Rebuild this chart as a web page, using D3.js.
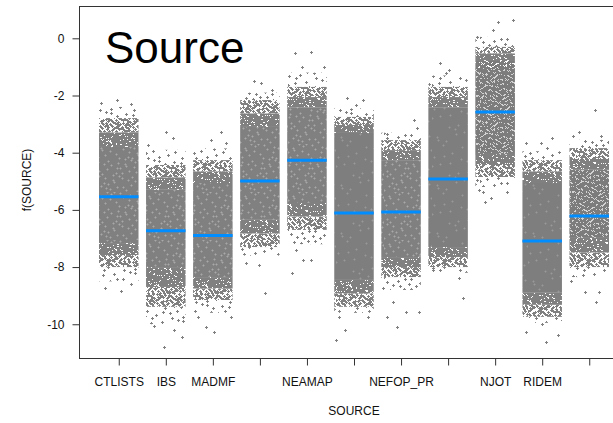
<!DOCTYPE html>
<html>
<head>
<meta charset="utf-8">
<script src="https://cdn.jsdelivr.net/npm/d3@7"></script>
<style>
  body { margin: 0; background: #fff; }
  svg { display: block; font-family: "Liberation Sans", Arial, sans-serif; }
</style>
</head>
<body>
<svg id="chart" width="613" height="423"></svg>
<script>
// factor levels (only some names are printed by the axis)
const levels = ["CTLISTS", "IBS", "MADMF", "L4", "NEAMAP", "L6", "NEFOP_PR", "L8", "NJOT", "RIDEM", "L11"]
const tickLabels = ["CTLISTS", "IBS", "MADMF", "", "NEAMAP", "", "NEFOP_PR", "", "NJOT", "RIDEM", ""]
const yTicks = [0, -2, -4, -6, -8, -10]

// fitted effect and confidence band (band only visible for some levels)
const fit = [-5.54, -6.73, -6.90, -4.99, -4.26, -6.11, -6.07, -4.92, -2.58, -7.09, -6.21]
const ciLower = [null, null, null, null, null, null, null, null, -4.08, null, -6.98]
const ciUpper = [null, null, null, null, null, null, null, null, -1.04, null, -4.60]

// partial residual clouds, read as density zones per level
const sparseTop = [-2.40, -3.90, -3.85, -1.90, -1.20, -2.45, -3.30, -1.30, 0.05, -3.95, -3.55]
const medTop = [-2.79, -4.43, -4.26, -2.16, -1.70, -2.75, -3.56, -1.70, -0.30, -4.26, -3.84]
const coreTop = [-3.80, -5.30, -5.06, -3.10, -2.41, -3.31, -4.26, -2.41, -0.76, -5.06, -4.60]
const coreBottom = [-7.16, -8.00, -8.35, -6.35, -5.76, -8.45, -7.65, -7.30, -4.01, -8.90, -6.98]
const medBottom = [-8.00, -9.39, -9.15, -7.30, -6.70, -9.39, -8.35, -8.00, -4.85, -9.74, -8.00]
const sparseBottom = [-8.50, -10.00, -9.60, -7.60, -7.20, -9.60, -8.80, -8.20, -5.20, -9.95, -8.35]
const coreLook = ["speckled", "speckled", "speckled", "speckled", "speckled", "solid", "speckled", "solid", "open", "solid", "open"]

// isolated residuals: [level index, value, jitter within the column]
const outliers = [
  [0, -2.16, -0.05], [0, -2.25, -0.45], [0, -2.30, 0.30], [0, -8.73, -0.35], [0, -8.85, 0.05], [0, -8.60, 0.30],
  [1, -3.28, 0.00], [1, -3.49, 0.18], [1, -3.73, -0.45], [1, -10.20, 0.20], [1, -10.45, 0.40], [1, -10.79, -0.05], [1, -10.05, -0.30],
  [2, -3.28, 0.20], [2, -3.56, -0.05], [2, -3.66, 0.33], [2, -10.09, -0.17], [2, -10.27, 0.03], [2, -9.74, -0.38], [2, -9.74, 0.45],
  [3, -1.49, -0.15], [3, -1.57, 0.03], [3, -1.81, 0.30], [3, -7.86, -0.35], [3, -7.92, -0.03], [3, -8.90, 0.12],
  [4, -0.51, -0.30], [4, -0.48, 0.10], [4, -1.00, -0.12], [4, -1.00, 0.42], [4, -7.40, -0.27], [4, -7.75, -0.10], [4, -7.75, 0.10], [4, -8.20, -0.38],
  [5, -2.09, -0.17], [5, -2.16, 0.23], [5, -2.33, 0.05], [5, -9.74, -0.37], [5, -10.20, -0.22], [5, -10.55, -0.45], [5, -9.74, 0.35],
  [6, -2.86, 0.33], [6, -3.35, -0.35], [6, -3.14, 0.40], [6, -10.09, -0.10], [6, -9.74, -0.35], [6, -9.56, 0.12], [6, -9.56, 0.45], [6, -9.22, -0.20], [6, -8.72, -0.45],
  [7, -0.86, -0.20], [7, -1.10, 0.03], [7, -1.20, -0.06], [7, -8.38, 0.28], [7, -9.08, 0.38], [7, -8.10, -0.38],
  [8, 0.64, 0.45], [8, 0.57, 0.07], [8, 0.29, -0.05], [8, 0.05, -0.47], [8, -5.30, -0.42], [8, -5.37, -0.30], [8, -5.72, -0.25], [8, -5.58, -0.10], [8, -5.37, 0.30],
  [9, -3.49, 0.25], [9, -3.66, -0.03], [9, -3.66, -0.40], [9, -3.84, 0.12], [9, -10.62, 0.10], [9, -10.28, -0.40], [9, -10.38, 0.40], [9, -10.00, 0.00],
  [10, -2.51, 0.14], [10, -3.28, -0.25], [10, -3.42, -0.40], [10, -3.42, 0.30], [10, -8.86, 0.25], [10, -9.22, 0.18], [10, -8.86, -0.10], [10, -8.50, -0.45]
]

const svg = d3.select("#chart")
const plotLeft = 79, plotRight = 629, plotTop = 6, plotBottom = 358

const x = d3.scalePoint().domain(levels).range([plotLeft, plotRight]).padding(0.845)
const y = d3.scaleLinear().domain([-11.18, 1.13]).range([plotBottom, plotTop])
const halfW = 19.75
const jitter = d3.scaleLinear().domain([-0.5, 0.5]).range([-halfW, halfW])

// textures for the point clouds (quasi-random "+" marks inside a tile)
function halton(i, b) {
  let f = 1, r = 0
  while (i > 0) { f /= b; r += f * (i % b); i = Math.floor(i / b) }
  return r
}
const T = 48
const defs = svg.append("defs")
function makePattern(id, n, offset, bg, color, s) {
  const p = defs.append("pattern").attr("id", id)
    .attr("patternUnits", "userSpaceOnUse").attr("width", T).attr("height", T)
  if (bg) p.append("rect").attr("width", T).attr("height", T).attr("fill", bg)
  p.append("path")
    .attr("d", d3.range(n).map(i => {
      const px = Math.floor(halton(i + offset, 2) * T) + 0.5
      const py = Math.floor(halton(i + offset, 3) * T) + 0.5
      return `M${px - s},${py}h${2 * s}M${px},${py - s}v${2 * s}`
    }).join(""))
    .attr("stroke", color).attr("stroke-width", 1).attr("fill", "none")
}
makePattern("sparse", 48, 7, null, "#808080", 1.5)
makePattern("medium", 330, 101, null, "#808080", 1.5)
makePattern("heavy", 700, 577, null, "#808080", 1.5)
makePattern("open", 560, 1301, null, "#7c7c7c", 1.5)
makePattern("speckled", 70, 2203, "#808080", "#a8a8a8", 1)
makePattern("solid", 25, 3119, "#7e7e7e", "#989898", 1)

// confidence bands
svg.append("g").selectAll("rect")
  .data(levels.map((d, i) => ({ d, lo: ciLower[i], hi: ciUpper[i] })).filter(e => e.lo !== null))
  .join("rect")
  .attr("x", e => x(e.d) - halfW).attr("width", 2 * halfW)
  .attr("y", e => y(e.hi)).attr("height", e => y(e.lo) - y(e.hi))
  .attr("fill", "#d3d3d3")

// residual clouds
const zones = []
levels.forEach((d, i) => {
  const upMid = (medTop[i] + coreTop[i]) / 2, loMid = (coreBottom[i] + medBottom[i]) / 2
  zones.push(
    { d, a: sparseTop[i], b: medTop[i], fill: "sparse" },
    { d, a: medTop[i], b: upMid, fill: "medium" },
    { d, a: upMid, b: coreTop[i], fill: "heavy" },
    { d, a: coreTop[i], b: coreBottom[i], fill: coreLook[i] },
    { d, a: coreBottom[i], b: loMid, fill: "heavy" },
    { d, a: loMid, b: medBottom[i], fill: "medium" },
    { d, a: medBottom[i], b: sparseBottom[i], fill: "sparse" }
  )
})
svg.append("g").selectAll("rect").data(zones).join("rect")
  .attr("x", z => x(z.d) - halfW).attr("width", 2 * halfW)
  .attr("y", z => y(z.a)).attr("height", z => y(z.b) - y(z.a))
  .attr("fill", z => `url(#${z.fill})`)

svg.append("path")
  .attr("d", outliers.map(([i, v, j]) => {
    const px = Math.round(x(levels[i]) + jitter(j)) + 0.5, py = Math.round(y(v)) + 0.5
    return `M${px - 1.5},${py}h3M${px},${py - 1.5}v3`
  }).join(""))
  .attr("stroke", "#808080").attr("stroke-width", 1)

// fitted lines
svg.append("g").selectAll("line").data(levels).join("line")
  .attr("x1", d => x(d) - halfW).attr("x2", d => x(d) + halfW)
  .attr("y1", (d, i) => y(fit[i])).attr("y2", (d, i) => y(fit[i]))
  .attr("stroke", "#008DFF").attr("stroke-width", 3)

// frame and axes
svg.append("rect")
  .attr("x", plotLeft + 0.5).attr("y", plotTop + 0.5)
  .attr("width", plotRight - plotLeft).attr("height", plotBottom - plotTop)
  .attr("fill", "none").attr("stroke", "#333")

const yAxis = svg.append("g").attr("transform", `translate(${plotLeft + 0.5},0)`)
  .call(d3.axisLeft(y).tickValues(yTicks).tickSize(7).tickPadding(8).tickFormat(d => String(d)))
const xAxis = svg.append("g").attr("transform", `translate(0,${plotBottom + 0.5})`)
  .call(d3.axisBottom(x).tickSize(7).tickPadding(12).tickFormat((d, i) => tickLabels[i]))
for (const g of [yAxis, xAxis]) {
  g.select(".domain").remove()
  g.selectAll("line").attr("stroke", "#333")
  g.selectAll("text").attr("font-size", 12).attr("fill", "#111")
}

svg.append("text").attr("x", 354).attr("y", 415).attr("text-anchor", "middle")
  .attr("font-size", 12).attr("fill", "#111").text("SOURCE")
svg.append("text").attr("transform", "translate(31,180) rotate(-90)").attr("text-anchor", "middle")
  .attr("font-size", 12).attr("fill", "#111").text("f(SOURCE)")

svg.append("text").attr("x", 105).attr("y", 63)
  .attr("font-size", 44).attr("fill", "#000").text("Source")
</script>
</body>
</html>
